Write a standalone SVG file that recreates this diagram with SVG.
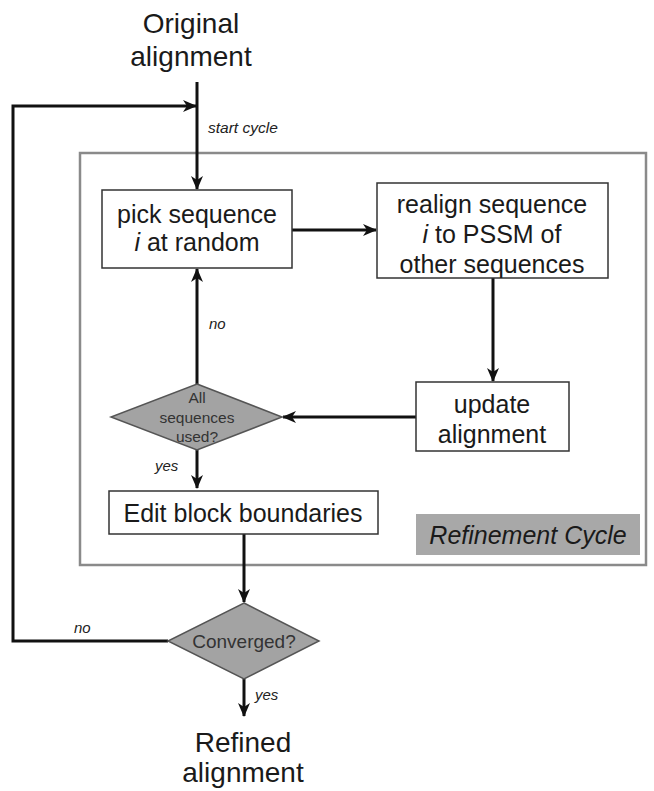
<svg xmlns="http://www.w3.org/2000/svg" width="654" height="791" viewBox="0 0 654 791">
<style>
.t{font-family:"Liberation Sans",Arial,sans-serif;fill:#1a1a1a;text-anchor:middle}
.big{font-size:28px}
.box{fill:#fff;stroke:#333;stroke-width:1.5}
.bt{font-size:25px}
.dia{fill:#a3a3a3;stroke:#555;stroke-width:1.5}
.dt{font-size:15.5px;fill:#333}
.lbl{font-family:"Liberation Sans",Arial,sans-serif;font-size:15px;font-style:italic;fill:#222}
.ln{fill:none;stroke:#111;stroke-width:3}
</style>
<defs>
<marker id="ah" viewBox="0 0 14 12" refX="13" refY="6" markerWidth="14" markerHeight="12" markerUnits="userSpaceOnUse" orient="auto">
<path d="M0,0 L14,6 L0,12 L4,6 Z" fill="#111"/>
</marker>
</defs>
<rect x="0" y="0" width="654" height="791" fill="#fff"/>
<g id="cycle-frame">
<rect x="80" y="153" width="566" height="412" fill="#fff" stroke="#8a8a8a" stroke-width="2.5"/>
<rect x="416" y="514" width="224" height="41" fill="#a8a8a8"/>
<text class="t" x="528" y="544" style="font-size:25px;font-style:italic">Refinement Cycle</text>
</g>
<g id="connectors">
<line class="ln" x1="197" y1="82" x2="197" y2="189" marker-end="url(#ah)"/>
<polyline class="ln" points="168,641 13,641 13,106 196,106" marker-end="url(#ah)"/>
<line class="ln" x1="292" y1="230" x2="376" y2="230" marker-end="url(#ah)"/>
<line class="ln" x1="493" y1="278" x2="493" y2="381" marker-end="url(#ah)"/>
<line class="ln" x1="416" y1="417" x2="283" y2="417" marker-end="url(#ah)"/>
<line class="ln" x1="197" y1="384" x2="197" y2="269" marker-end="url(#ah)"/>
<line class="ln" x1="197" y1="450" x2="197" y2="488" marker-end="url(#ah)"/>
<line class="ln" x1="244" y1="534" x2="244" y2="602" marker-end="url(#ah)"/>
<line class="ln" x1="244" y1="679" x2="244" y2="716" marker-end="url(#ah)"/>
<text class="lbl" x="208" y="133" style="font-size:15.5px">start cycle</text>
<text class="lbl" x="209" y="329">no</text>
<text class="lbl" x="155" y="471">yes</text>
<text class="lbl" x="74" y="633">no</text>
<text class="lbl" x="255" y="700">yes</text>
</g>
<g id="original">
<text class="t big" x="191" y="33">Original</text>
<text class="t big" x="191" y="66">alignment</text>
</g>
<g id="pick">
<rect class="box" x="102" y="190" width="190" height="78"/>
<text class="t bt" x="197" y="223">pick sequence</text>
<text class="t bt" x="197" y="251"><tspan font-style="italic">i</tspan>  at random</text>
</g>
<g id="realign">
<rect class="box" x="377" y="183" width="231" height="95"/>
<text class="t bt" x="492" y="213">realign sequence</text>
<text class="t bt" x="492" y="243"><tspan font-style="italic">i</tspan> to PSSM of</text>
<text class="t bt" x="492" y="273">other sequences</text>
</g>
<g id="update">
<rect class="box" x="416" y="382" width="153" height="69"/>
<text class="t bt" x="492" y="413">update</text>
<text class="t bt" x="492" y="443">alignment</text>
</g>
<g id="all-used">
<polygon class="dia" points="197,384 282,417 197,450 111,417"/>
<text class="t dt" x="197" y="403">All</text>
<text class="t dt" x="197" y="423">sequences</text>
<text class="t dt" x="197" y="442">used?</text>
</g>
<g id="edit">
<rect class="box" x="109" y="491" width="269" height="43"/>
<text class="t" x="243" y="522" style="font-size:25px">Edit block boundaries</text>
</g>
<g id="converged">
<polygon class="dia" points="244,603 319,641 244,679 168,641"/>
<text class="t dt" x="244" y="648" style="font-size:19px">Converged?</text>
</g>
<g id="refined">
<text class="t big" x="243" y="752">Refined</text>
<text class="t big" x="243" y="782">alignment</text>
</g>
</svg>
